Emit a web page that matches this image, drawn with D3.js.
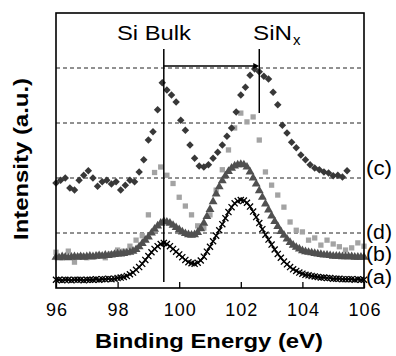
<!DOCTYPE html>
<html>
<head>
<meta charset="utf-8">
<script src="https://cdn.jsdelivr.net/npm/d3@7"></script>
<style>
  body { margin: 0; background: #fff; }
  text { font-family: "Liberation Sans", Arial, sans-serif; }
</style>
</head>
<body>
<div id="chart"></div>
<script>
// XPS spectra, Si 2p region: (a) (b) (c) (d)

// energies, 0.1 eV step, used by (a) and (b)
const energyFine = [96.0,96.1,96.2,96.3,96.4,96.5,96.6,96.7,96.8,96.9,
  97.0,97.1,97.2,97.3,97.4,97.5,97.6,97.7,97.8,97.9,
  98.0,98.1,98.2,98.3,98.4,98.5,98.6,98.7,98.8,98.9,
  99.0,99.1,99.2,99.3,99.4,99.5,99.6,99.7,99.8,99.9,
  100.0,100.1,100.2,100.3,100.4,100.5,100.6,100.7,100.8,100.9,
  101.0,101.1,101.2,101.3,101.4,101.5,101.6,101.7,101.8,101.9,
  102.0,102.1,102.2,102.3,102.4,102.5,102.6,102.7,102.8,102.9,
  103.0,103.1,103.2,103.3,103.4,103.5,103.6,103.7,103.8,103.9,
  104.0,104.1,104.2,104.3,104.4,104.5,104.6,104.7,104.8,104.9,
  105.0,105.1,105.2,105.3,105.4,105.5,105.6,105.7,105.8,105.9,106.0];

const seriesA = [0.15,0.15,0.14,0.15,0.15,0.14,0.15,0.15,0.15,0.14,
  0.15,0.15,0.15,0.16,0.15,0.16,0.16,0.17,0.16,0.17,
  0.18,0.19,0.2,0.22,0.25,0.28,0.33,0.38,0.44,0.51,
  0.58,0.65,0.71,0.76,0.8,0.82,0.8,0.76,0.71,0.66,
  0.61,0.56,0.51,0.47,0.45,0.44,0.46,0.5,0.57,0.66,
  0.75,0.85,0.95,1.05,1.16,1.27,1.38,1.47,1.54,1.58,
  1.6,1.59,1.55,1.48,1.39,1.29,1.18,1.07,0.97,0.88,
  0.79,0.7,0.62,0.55,0.48,0.43,0.38,0.34,0.31,0.28,
  0.26,0.24,0.23,0.22,0.21,0.2,0.19,0.19,0.18,0.18,
  0.17,0.17,0.17,0.16,0.16,0.16,0.16,0.15,0.16,0.15,0.15];

const seriesB = [0.56,0.55,0.57,0.56,0.55,0.56,0.57,0.56,0.57,0.56,
  0.57,0.58,0.57,0.58,0.59,0.58,0.6,0.59,0.6,0.61,
  0.62,0.62,0.63,0.64,0.65,0.67,0.7,0.75,0.81,0.87,
  0.93,1.0,1.07,1.13,1.18,1.21,1.2,1.18,1.14,1.1,
  1.06,1.02,0.99,0.97,0.96,0.97,1.01,1.08,1.18,1.3,
  1.43,1.57,1.71,1.84,1.95,2.04,2.12,2.18,2.22,2.24,
  2.25,2.24,2.2,2.11,2.0,1.89,1.77,1.65,1.53,1.42,
  1.31,1.21,1.12,1.03,0.96,0.89,0.83,0.78,0.74,0.71,
  0.68,0.66,0.65,0.64,0.63,0.62,0.61,0.6,0.6,0.59,
  0.58,0.58,0.58,0.57,0.57,0.57,0.57,0.56,0.56,0.56,0.56];

// (d), 0.2 eV step
const energyD = [96.0,96.2,96.4,96.6,96.8,97.0,97.2,97.4,97.6,97.8,
  98.0,98.2,98.4,98.6,98.8,99.0,99.2,99.4,99.6,99.8,
  100.0,100.2,100.4,100.6,100.8,101.0,101.2,101.4,101.6,101.8,
  102.0,102.2,102.4,102.6,102.8,103.0,103.2,103.4,103.6,103.8,
  104.0,104.2,104.4,104.6,104.8,105.0,105.2,105.4,105.6,105.8,106.0];
const seriesD = [0.65,0.55,0.67,0.47,0.58,0.55,0.56,0.6,0.55,0.62,
  0.69,0.67,0.76,0.87,0.95,1.33,2.1,2.2,2.05,1.9,
  1.65,1.49,1.33,1.13,1.09,1.33,1.78,2.15,2.51,2.91,
  3.18,3.02,3.11,2.69,2.11,1.87,1.69,1.47,1.2,1.05,
  1.02,0.87,0.91,0.78,0.87,0.8,0.75,0.69,0.73,0.82,0.76];

// (c), 0.15 eV step
const energyC = [96.0,96.15,96.3,96.45,96.6,96.75,96.9,97.05,97.2,97.35,
  97.5,97.65,97.8,97.95,98.1,98.25,98.4,98.55,98.7,98.85,
  99.0,99.15,99.3,99.45,99.6,99.75,99.9,100.05,100.2,100.35,
  100.5,100.65,100.8,100.95,101.1,101.25,101.4,101.55,101.7,101.85,
  102.0,102.15,102.3,102.45,102.6,102.75,102.9,103.05,103.2,103.35,
  103.5,103.65,103.8,103.95,104.1,104.25,104.4,104.55,104.7,104.85,
  105.0,105.15,105.3,105.45];
const seriesC = [1.91,1.96,2.0,1.82,1.78,1.96,2.05,2.13,2.0,1.85,
  1.93,1.96,1.89,1.93,1.78,1.87,1.96,1.93,2.11,2.33,
  2.69,2.84,3.24,3.73,3.6,3.51,3.38,3.05,2.87,2.6,
  2.36,2.22,2.2,2.24,2.36,2.47,2.6,2.76,2.91,3.2,
  3.51,3.65,3.87,3.98,3.93,3.85,3.8,3.56,3.33,2.96,
  2.82,2.65,2.55,2.42,2.33,2.24,2.18,2.15,2.11,2.09,
  2.04,2.05,2.02,2.13];

const xTicks = [96, 98, 100, 102, 104, 106];
const gridValues = [1, 2, 3, 4];
const seriesLabels = ["(c)", "(d)", "(b)", "(a)"];
const labelLevels = [170, 234, 256, 279];   // label centres, px
const siBulk = 99.5, siNx = 102.6;

const width = 396, height = 356;
const marginTop = 13, marginRight = 32, marginBottom = 68, marginLeft = 56;

const x = d3.scaleLinear().domain([96, 106]).range([marginLeft, width - marginRight]);
const y = d3.scaleLinear().domain([0, 5]).range([height - marginBottom, marginTop]);

const svg = d3.select("#chart").append("svg")
    .attr("width", width).attr("height", height);

// dashed gridlines
svg.append("g").selectAll("line").data(gridValues).join("line")
    .attr("x1", x(96)).attr("x2", x(106))
    .attr("y1", d => y(d)).attr("y2", d => y(d))
    .attr("stroke", "#222").attr("stroke-width", 1)
    .attr("stroke-dasharray", "4,3");

// x axis with inward ticks
const xAxis = svg.append("g")
    .attr("transform", `translate(0,${y(0)})`)
    .call(d3.axisBottom(x).tickValues(xTicks).tickSize(-6).tickPadding(15).tickFormat(d3.format("d")));
xAxis.select(".domain").remove();
xAxis.selectAll(".tick line").attr("stroke", "#000").attr("stroke-width", 1.3);
xAxis.selectAll(".tick text")
    .attr("font-size", 18).attr("font-family", "Liberation Sans, Arial, sans-serif")
    .attr("fill", "#000").attr("textLength", d => d >= 100 ? 32 : 21);

// series (d) light squares
svg.append("g").selectAll("path").data(energyD).join("path")
    .attr("d", d3.symbol(d3.symbolSquare, 28))
    .attr("transform", (d, i) => `translate(${x(d)},${y(seriesD[i])})`)
    .attr("fill", "#a3a3a3");

// series (c) diamonds
svg.append("g").selectAll("path").data(energyC).join("path")
    .attr("d", d3.symbol(d3.symbolSquare, 28))
    .attr("transform", (d, i) => `translate(${x(d)},${y(seriesC[i])}) rotate(45)`)
    .attr("fill", "#383838");

// series (b) triangles
svg.append("g").selectAll("path").data(energyFine).join("path")
    .attr("d", d3.symbol(d3.symbolTriangle, 34))
    .attr("transform", (d, i) => `translate(${x(d)},${y(seriesB[i])})`)
    .attr("fill", "#505050");

// series (a) line + crosses
const lineA = d3.line().x((d, i) => x(d)).y((d, i) => y(seriesA[i]));
svg.append("path").datum(energyFine)
    .attr("d", lineA).attr("fill", "none")
    .attr("stroke", "#000").attr("stroke-width", 1.4);
svg.append("g").selectAll("path").data(energyFine).join("path")
    .attr("d", d3.symbol(d3.symbolTimes, 26))
    .attr("transform", (d, i) => `translate(${x(d)},${y(seriesA[i])})`)
    .attr("fill", "none").attr("stroke", "#000").attr("stroke-width", 1.3);

// frame
svg.append("rect")
    .attr("x", x(96)).attr("y", y(5))
    .attr("width", x(106) - x(96)).attr("height", y(0) - y(5))
    .attr("fill", "none").attr("stroke", "#000").attr("stroke-width", 1.6);

// marker lines for Si bulk and SiNx
svg.append("line")
    .attr("x1", x(siBulk)).attr("x2", x(siBulk))
    .attr("y1", 49).attr("y2", y(0) - 6)
    .attr("stroke", "#000").attr("stroke-width", 1.5);
svg.append("line")
    .attr("x1", x(siNx)).attr("x2", x(siNx))
    .attr("y1", 49).attr("y2", 113)
    .attr("stroke", "#000").attr("stroke-width", 1.5);
svg.append("line")
    .attr("x1", x(siBulk)).attr("x2", x(siNx) - 5)
    .attr("y1", 66).attr("y2", 66)
    .attr("stroke", "#000").attr("stroke-width", 1.5);
svg.append("path")
    .attr("d", `M${x(siNx)},66 L${x(siNx) - 6},63 L${x(siNx) - 6},69 Z`)
    .attr("fill", "#000");

// peak labels
svg.append("text").attr("x", 117).attr("y", 40)
    .attr("font-size", 21).attr("textLength", 74).attr("lengthAdjust", "spacingAndGlyphs")
    .text("Si Bulk");
svg.append("text").attr("x", 253).attr("y", 40)
    .attr("font-size", 21).attr("textLength", 39).attr("lengthAdjust", "spacingAndGlyphs")
    .text("SiN");
svg.append("text").attr("x", 293).attr("y", 45)
    .attr("font-size", 15)
    .text("x");

// series labels
svg.append("g").selectAll("text").data(seriesLabels).join("text")
    .attr("x", 366).attr("y", (d, i) => labelLevels[i] + 5)
    .attr("font-size", 20).attr("textLength", 26).attr("lengthAdjust", "spacingAndGlyphs")
    .text(d => d);

// axis titles
svg.append("text")
    .attr("transform", "translate(28,159) rotate(-90)")
    .attr("text-anchor", "middle").attr("font-weight", "bold")
    .attr("font-size", 21).attr("textLength", 162).attr("lengthAdjust", "spacingAndGlyphs")
    .text("Intensity (a.u.)");
svg.append("text")
    .attr("x", 209).attr("y", 348)
    .attr("text-anchor", "middle").attr("font-weight", "bold")
    .attr("font-size", 21).attr("textLength", 228).attr("lengthAdjust", "spacingAndGlyphs")
    .text("Binding Energy (eV)");
</script>
</body>
</html>
